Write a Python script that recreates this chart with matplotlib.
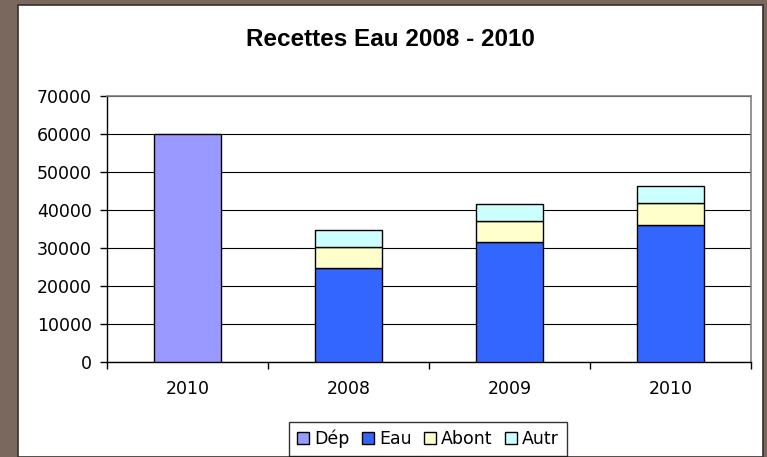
import numpy as np
import matplotlib.pyplot as plt
from matplotlib.patches import Rectangle

# data
categories = ["2010", "2008", "2009", "2010"]
dep = [60000, 0, 0, 0]
eau = [0, 24700, 31500, 36000]
abont = [0, 5500, 5500, 5800]
autr = [0, 4500, 4700, 4600]

colors = {"Dép": "#9999ff", "Eau": "#3366ff", "Abont": "#ffffcc", "Autr": "#ccffff"}

W, H = 767, 457
fig = plt.figure(figsize=(W / 100, H / 100), dpi=100)
fig.patch.set_facecolor("#7a675e")

# white chart panel on brown background
fig.patches.append(Rectangle((18 / W, 0), (763 - 18) / W, (H - 5) / H,
                             transform=fig.transFigure, facecolor="white",
                             edgecolor="#3a2e2a", linewidth=1.2, zorder=-1))

ax = fig.add_axes([107 / W, (H - 362) / H, (751 - 107) / W, (362 - 96) / H])
ax.set_zorder(1)
ax.set_facecolor("white")

x = np.arange(len(categories))
w = 0.41
ed = dict(edgecolor="black", linewidth=1.0, zorder=3)

# first category only has Dép, the others are stacked
ax.bar(x[:1], dep[:1], w, color=colors["Dép"], label="Dép", **ed)
ax.bar(x[1:], eau[1:], w, color=colors["Eau"], label="Eau", **ed)
b1 = np.array(eau[1:])
ax.bar(x[1:], abont[1:], w, bottom=b1, color=colors["Abont"], label="Abont", **ed)
b2 = b1 + np.array(abont[1:])
ax.bar(x[1:], autr[1:], w, bottom=b2, color=colors["Autr"], label="Autr", **ed)

ax.set_xlim(-0.5, len(categories) - 0.5)
ax.set_ylim(0, 70000)
ax.set_yticks(np.arange(0, 70001, 10000))
ax.yaxis.grid(True, color="black", linewidth=0.8, zorder=0)
ax.set_axisbelow(True)

ax.set_xticks(x)
ax.set_xticklabels(categories)
ax.set_xticks(np.arange(-0.5, len(categories)), minor=True)
ax.tick_params(axis="x", which="major", length=0, pad=13)
ax.tick_params(axis="x", which="minor", length=5, width=1, direction="out")
ax.tick_params(axis="y", length=5, width=1, direction="out", pad=6)
for lab in ax.get_xticklabels() + ax.get_yticklabels():
    lab.set_fontfamily("DejaVu Sans")
    lab.set_fontsize(12.5)

for s in ("top", "right"):
    ax.spines[s].set_color("#808080")
    ax.spines[s].set_linewidth(1.2)
for s in ("left", "bottom"):
    ax.spines[s].set_color("black")
    ax.spines[s].set_linewidth(1.0)

fig.text(390 / W, 1 - 40 / H, "Recettes Eau 2008 - 2010", ha="center", va="center",
         fontsize=17.5, fontweight="bold", family="Liberation Sans")

leg = fig.legend(loc="center", bbox_to_anchor=(428 / W, 1 - 439 / H), ncol=4,
                 frameon=True, fancybox=False, handlelength=0.7, handleheight=0.7,
                 handletextpad=0.3, columnspacing=0.7, borderpad=0.45,
                 prop={"family": "DejaVu Sans", "size": 12.5})
leg.get_frame().set_edgecolor("black")
leg.get_frame().set_linewidth(1.0)

fig.savefig("out.png", dpi=100, facecolor=fig.get_facecolor())
